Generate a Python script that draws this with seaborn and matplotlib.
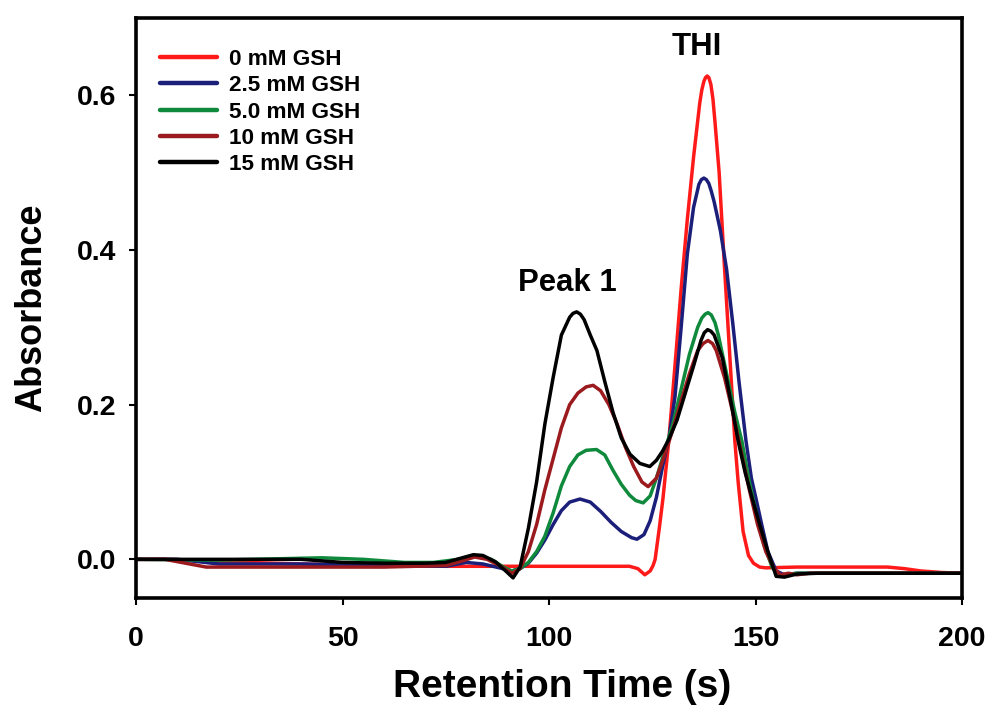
import matplotlib
matplotlib.use("Agg")
import matplotlib.pyplot as plt
import seaborn as sns
import pandas as pd

# ---------------- data ----------------
series_names = ["0 mM GSH", "2.5 mM GSH", "5.0 mM GSH", "10 mM GSH", "15 mM GSH"]

x_0mM = [0, 8, 20, 40, 60, 75, 85, 95, 110, 119.5, 121.5, 123.2, 124.5, 125.2, 125.7, 126.7,
         127.6, 129, 130.5, 132, 133.5, 135, 136.5, 137, 137.5, 137.9, 138.3, 138.7, 139.2,
         139.7, 140.2, 141.2, 142.4, 143.7, 145, 145.8, 147, 148.3, 149.5, 151, 152.5, 160,
         175, 182, 186, 190, 195, 200]
y_0mM = [0, 0, -0.003, -0.006, -0.008, -0.009, -0.009, -0.009, -0.009, -0.009, -0.012, -0.02,
         -0.015, -0.008, 0.0, 0.04, 0.079, 0.153, 0.25, 0.35, 0.44, 0.52, 0.59, 0.607, 0.618,
         0.623, 0.625, 0.623, 0.614, 0.595, 0.565, 0.5, 0.386, 0.27, 0.153, 0.10, 0.036,
         0.005, -0.005, -0.01, -0.011, -0.01, -0.01, -0.01, -0.012, -0.015, -0.017, -0.018]

x_2p5mM = [0, 10, 20, 40, 60, 75, 80, 84, 88, 91, 93, 95, 97, 99, 101, 103, 105, 107.5, 110,
           112.5, 115, 117.5, 120, 121.3, 123, 124.5, 126, 127.5, 129, 130.5, 132, 133.5, 135,
           136.3, 136.9, 137.5, 138.1, 138.7, 139.3, 140, 141.5, 143, 144.5, 146, 147.7, 149,
           150.1, 151.5, 153, 155, 157, 160, 170, 200]
y_2p5mM = [0, 0, -0.006, -0.006, -0.008, -0.009, -0.004, -0.006, -0.011, -0.015, -0.012,
           -0.005, 0.008, 0.025, 0.045, 0.063, 0.074, 0.078, 0.074, 0.062, 0.048, 0.036, 0.028,
           0.026, 0.032, 0.05, 0.08, 0.12, 0.155, 0.21, 0.3, 0.395, 0.455, 0.485, 0.491, 0.493,
           0.491, 0.486, 0.476, 0.462, 0.425, 0.375, 0.305, 0.23, 0.153, 0.105, 0.079, 0.045,
           0.01, -0.015, -0.02, -0.018, -0.018, -0.018]

x_5mM = [0, 20, 45, 55, 65, 72, 78, 82, 86, 89, 91, 93, 95, 97, 99, 101, 103, 105, 107, 109,
         111.5, 113.5, 115.5, 117.5, 119.5, 121, 122.8, 124.5, 126, 128, 130, 132, 134, 136,
         137, 137.8, 138.5, 139.3, 140.2, 141, 143, 145, 146.7, 148.5, 150.2, 152, 154, 155.5,
         157, 160, 170, 200]
y_5mM = [0, -0.001, 0.002, 0.0, -0.004, -0.004, 0.0, 0.004, 0.0, -0.01, -0.015, -0.012,
         -0.004, 0.01, 0.03, 0.06, 0.095, 0.12, 0.135, 0.141, 0.142, 0.135, 0.115, 0.097,
         0.083, 0.076, 0.073, 0.082, 0.105, 0.14, 0.175, 0.22, 0.265, 0.3, 0.312, 0.317, 0.319,
         0.316, 0.306, 0.29, 0.24, 0.19, 0.153, 0.1, 0.06, 0.02, -0.01, -0.02, -0.02, -0.018,
         -0.018, -0.018]

x_10mM = [0, 7, 12, 17, 40, 60, 75, 79, 82, 85, 88, 91, 93, 95, 97, 99, 101, 103, 105, 107,
          109, 110.7, 112.5, 114.5, 116.5, 118.5, 120.5, 122.5, 124, 126, 128, 130, 132, 134,
          136, 137.3, 138.5, 139.6, 140.5, 142.5, 144.5, 146.5, 148.5, 150.5, 152.5, 154.5,
          156, 158, 160, 163, 200]
y_10mM = [0, 0, -0.005, -0.01, -0.01, -0.01, -0.008, -0.002, 0.003, 0.0, -0.008, -0.018,
          -0.012, 0.01, 0.045, 0.09, 0.13, 0.17, 0.2, 0.215, 0.223, 0.225, 0.218, 0.2, 0.175,
          0.145, 0.12, 0.1, 0.094, 0.105, 0.135, 0.168, 0.205, 0.24, 0.27, 0.279, 0.283, 0.279,
          0.27, 0.235, 0.19, 0.14, 0.09, 0.045, 0.01, -0.012, -0.02, -0.018, -0.02, -0.018,
          -0.018]

x_15mM = [0, 40, 50, 60, 70, 75, 79, 81.7, 84, 87, 89.5, 91.3, 93, 95, 97, 99, 101, 103, 105,
          105.8, 106.7, 107.6, 108.5, 110, 111.6, 113.5, 115.5, 117.5, 119.6, 122, 124.4, 126,
          127.5, 129, 131, 133, 135, 136.8, 137.6, 138.4, 139.2, 140, 142, 144, 145.8, 147.5,
          149.2, 151, 153, 155, 157, 160, 165, 200]
y_15mM = [0, 0, -0.004, -0.005, -0.005, -0.004, 0.002, 0.006, 0.005, -0.003, -0.015, -0.024,
          -0.01, 0.04, 0.1, 0.175, 0.235, 0.29, 0.313, 0.318, 0.32, 0.317, 0.31, 0.29, 0.27,
          0.23, 0.19, 0.157, 0.136, 0.124, 0.12, 0.128, 0.14, 0.155, 0.18, 0.215, 0.25, 0.283,
          0.293, 0.297, 0.295, 0.29, 0.26, 0.205, 0.153, 0.112, 0.079, 0.045, 0.01, -0.022,
          -0.023, -0.019, -0.018, -0.018]

x_ticks = [0, 50, 100, 150, 200]
y_ticks = [0.0, 0.2, 0.4, 0.6]
x_label = "Retention Time (s)"
y_label = "Absorbance"
annotations = [("Peak 1", 104.4, 0.357), ("THI", 135.8, 0.662)]

colors = ["#ff1a1a", "#1c1f7a", "#0f8a3c", "#9a1a1e", "#000000"]

# ---------------- assemble long-form table ----------------
xs = [x_0mM, x_2p5mM, x_5mM, x_10mM, x_15mM]
ys = [y_0mM, y_2p5mM, y_5mM, y_10mM, y_15mM]
frames = []
for name, xv, yv in zip(series_names, xs, ys):
    frames.append(pd.DataFrame({"t": xv, "A": yv, "series": name}))
df = pd.concat(frames, ignore_index=True)

# ---------------- plot ----------------
sns.set_style("ticks")
plt.rcParams["font.family"] = ["Liberation Sans", "DejaVu Sans"]
plt.rcParams["font.weight"] = "bold"
for k in ["text.color", "axes.labelcolor", "xtick.color", "ytick.color"]:
    plt.rcParams[k] = "black"

fig = plt.figure(figsize=(9.89, 7.05), dpi=100)
ax = fig.add_axes([136 / 989, 107 / 705, 826 / 989, 580 / 705])

sns.lineplot(data=df, x="t", y="A", hue="series", hue_order=series_names,
             palette=colors, sort=False, estimator=None,
             linewidth=2.5, ax=ax, legend=True,
             solid_joinstyle="round", solid_capstyle="round")

ax.set_xlim(0, 200)
ax.set_ylim(-0.05, 0.7)
ax.set_xticks(x_ticks)
ax.set_yticks(y_ticks)
ax.set_xticklabels([f"{v:g}" for v in x_ticks], fontsize=20.5, fontweight="bold")
ax.set_yticklabels([f"{v:.1f}" for v in y_ticks], fontsize=20.5, fontweight="bold")
ax.tick_params(axis="both", direction="out", length=5, width=1.5, color="black")
ax.tick_params(axis="x", pad=15)
ax.tick_params(axis="y", pad=9)
for s in ax.spines.values():
    s.set_visible(True)
    s.set_linewidth(2.6)
    s.set_color("black")

ax.set_xlabel(x_label, fontsize=28, fontweight="bold", labelpad=12.5, x=0.516)
ax.set_ylabel(y_label, fontsize=26, fontweight="bold", labelpad=20)

for txt, tx, ty in annotations:
    ax.text(tx, ty, txt, fontsize=22.4, fontweight="bold", ha="center", va="center")

leg = ax.legend(loc="upper left", bbox_to_anchor=(0.029, 0.947), frameon=False,
                fontsize=16.2, handlelength=2.55, handletextpad=0.5, labelspacing=0.24,
                borderaxespad=0, borderpad=0, title=None)
for line in leg.get_lines():
    line.set_linewidth(3.2)
for t in leg.get_texts():
    t.set_fontweight("bold")

fig.savefig("out.png", dpi=100)
